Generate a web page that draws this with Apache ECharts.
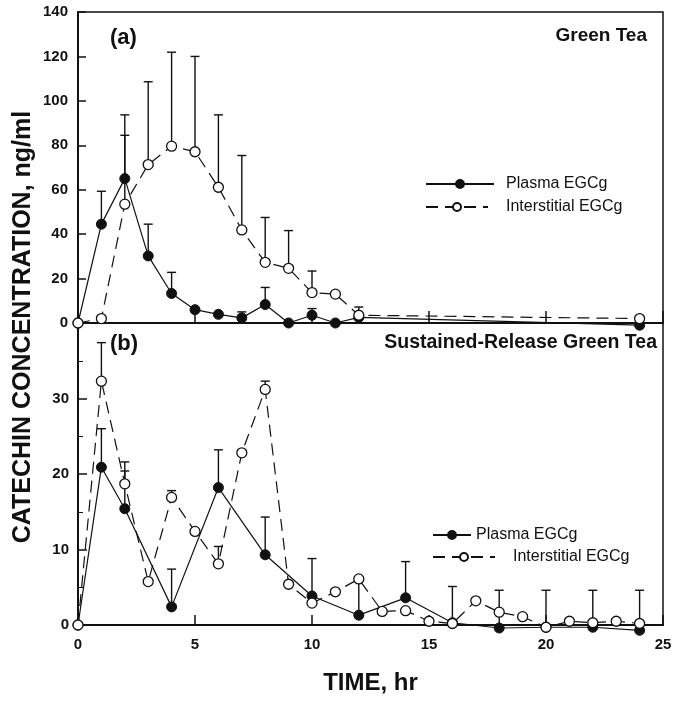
<!DOCTYPE html>
<html>
<head>
<meta charset="utf-8">
<script src="https://cdn.jsdelivr.net/npm/echarts@6/dist/echarts.min.js"></script>
<style>
html,body{margin:0;padding:0;background:#fff;}
#chart{width:684px;height:706px;}
</style>
</head>
<body>
<div id="chart"></div>
<script>
// ---- Panel (a): Green Tea ----
const hoursA = [0, 1, 2, 3, 4, 5, 6, 7, 8, 9, 10, 11, 12, 24];
const plasmaA = [0, 44.5, 65, 30.2, 13.3, 6.0, 3.9, 2.3, 8.3, 0, 3.5, 0, 2.5, -1];
const plasmaAUpper = [null, 59.3, 93.7, 44.5, 22.8, null, null, 5, 16, null, 6.5, null, null, null];
const interstitialA = [0, 2, 53.5, 71.3, 79.6, 77.1, 61.1, 41.9, 27.3, 24.6, 13.7, 13, 3.5, 2];
const interstitialAUpper = [null, null, 84.5, 108.6, 121.9, 120, 93.7, 75.4, 47.5, 41.6, 23.4, null, 7.2, null];

// ---- Panel (b): Sustained-Release Green Tea ----
const hoursBPlasma = [0, 1, 2, 4, 6, 8, 10, 12, 14, 16, 18, 20, 22, 24];
const plasmaB = [0, 20.9, 15.4, 2.4, 18.2, 9.3, 3.85, 1.3, 3.6, 0.3, -0.4, -0.3, -0.3, -0.7];
const plasmaBUpper = [null, 26, 20.4, 7.4, 23.2, 14.3, 8.8, 6.4, 8.4, 5.1, 4.6, 4.6, 4.6, 4.6];
const hoursBInter = [0, 1, 2, 3, 4, 5, 6, 7, 8, 9, 10, 11, 12, 13, 14, 15, 16, 17, 18, 19, 20, 21, 22, 23, 24];
const interstitialB = [0, 32.3, 18.7, 5.75, 16.9, 12.4, 8.1, 22.8, 31.2, 5.4, 2.9, 4.4, 6.1, 1.8, 1.9, 0.5, 0.2, 3.2, 1.7, 1.1, -0.3, 0.5, 0.3, 0.5, 0.2];
const interstitialBUpper = [null, 37.4, 21.6, null, 17.8, null, 10.4, null, 32.3, null, null, null, null, null, null, null, null, null, null, null, null, null, null, null, null];

// ---- Axis ticks ----
const xTicks = [0, 5, 10, 15, 20, 25];
const yTicksA = [0, 20, 40, 60, 80, 100, 120, 140];
const yTicksB = [0, 10, 20, 30];

const FONT = "'Liberation Sans', Arial, sans-serif";
const INK = '#111';

function pairs(xs, ys) { return xs.map((x, i) => [x, ys[i]]); }
function errPairs(xs, ys, ups) {
  const out = [];
  xs.forEach((x, i) => { if (ups[i] != null) out.push([x, ys[i], ups[i]]); });
  return out;
}
function errRender(params, api) {
  const x = api.value(0), y = api.value(1), u = api.value(2);
  const p0 = api.coord([x, y]);
  const p1 = api.coord([x, u]);
  const hw = 4.5;
  const st = { stroke: INK, lineWidth: 1.4 };
  return {
    type: 'group',
    children: [
      { type: 'line', shape: { x1: p0[0], y1: p0[1], x2: p1[0], y2: p1[1] }, style: st },
      { type: 'line', shape: { x1: p1[0] - hw, y1: p1[1], x2: p1[0] + hw, y2: p1[1] }, style: st }
    ]
  };
}

const plasmaStyle = {
  type: 'line', name: 'Plasma EGCg', symbol: 'circle', symbolSize: 10, clip: false, z: 4,
  itemStyle: { color: INK, borderColor: INK, borderWidth: 1 },
  lineStyle: { color: INK, width: 1.2, type: 'solid' }
};
const interStyle = {
  type: 'line', name: 'Interstitial EGCg', symbol: 'circle', symbolSize: 10, clip: false, z: 5,
  itemStyle: { color: '#fff', borderColor: INK, borderWidth: 1.3 },
  lineStyle: { color: INK, width: 1.2, type: [12, 7] }
};

function xAxisCfg(gi, showLabels, tickLen) {
  return {
    type: 'value', gridIndex: gi, min: 0, max: 25, interval: 5,
    axisLine: { show: true, lineStyle: { color: INK, width: 2 } },
    axisTick: { show: true, inside: true, length: tickLen, lineStyle: { color: INK, width: 1.5 } },
    axisLabel: {
      show: showLabels, margin: 12, color: INK, fontFamily: FONT, fontWeight: 'bold', fontSize: 15,
      formatter: v => xTicks.includes(v) ? String(v) : ''
    },
    splitLine: { show: false }
  };
}

const legendBase = {
  orient: 'vertical', selectedMode: false, itemHeight: 10,
  textStyle: { fontFamily: FONT, fontSize: 16, color: INK }
};

const option = {
  backgroundColor: '#fff',
  animation: false,
  grid: [
    { left: 78, top: 12, width: 585, height: 311, show: true, borderColor: INK, borderWidth: 1.5, backgroundColor: 'transparent' },
    { left: 78, top: 323, width: 585, height: 302, show: true, borderColor: INK, borderWidth: 1.5, backgroundColor: 'transparent' }
  ],
  xAxis: [
    xAxisCfg(0, false, 12),
    Object.assign(xAxisCfg(1, true, 10), {
      name: 'TIME, hr', nameLocation: 'middle', nameGap: 46,
      nameTextStyle: { color: INK, fontFamily: FONT, fontWeight: 'bold', fontSize: 24 }
    })
  ],
  yAxis: [
    {
      type: 'value', gridIndex: 0, min: 0, max: 140, interval: 20,
      axisLine: { show: true, lineStyle: { color: INK, width: 2 } },
      axisTick: { show: true, inside: true, length: 8, lineStyle: { color: INK, width: 1.5 } },
      axisLabel: { margin: 10, color: INK, fontFamily: FONT, fontWeight: 'bold', fontSize: 15,
        formatter: v => yTicksA.includes(v) ? String(v) : '' },
      splitLine: { show: false }
    },
    {
      type: 'value', gridIndex: 1, min: 0, max: 40, interval: 10,
      axisLine: { show: true, lineStyle: { color: INK, width: 2 } },
      axisTick: { show: true, inside: true, length: 9, lineStyle: { color: INK, width: 1.5 } },
      minorTick: { show: true, splitNumber: 2, length: 5, lineStyle: { color: INK, width: 1 } },
      axisLabel: { margin: 9, color: INK, fontFamily: FONT, fontWeight: 'bold', fontSize: 15,
        formatter: v => yTicksB.includes(v) ? String(v) : '' },
      splitLine: { show: false }
    }
  ],
  legend: [
    Object.assign({}, legendBase, { left: 420, top: 171, itemWidth: 68, data: ['Plasma EGCg'],
      textStyle: Object.assign({}, legendBase.textStyle, { padding: [0, 0, 0, 7] }) }),
    Object.assign({}, legendBase, { left: 420, top: 194, itemWidth: 62, data: ['Interstitial EGCg'],
      textStyle: Object.assign({}, legendBase.textStyle, { padding: [0, 0, 0, 13] }) }),
    Object.assign({}, legendBase, { left: 427, top: 522, itemWidth: 38, data: ['Plasma EGCg'],
      textStyle: Object.assign({}, legendBase.textStyle, { padding: [0, 0, 0, 0] }) }),
    Object.assign({}, legendBase, { left: 427, top: 544, itemWidth: 62, data: ['Interstitial EGCg'],
      textStyle: Object.assign({}, legendBase.textStyle, { padding: [0, 0, 0, 13] }) })
  ],
  graphic: [
    { type: 'text', left: 110, top: 27, style: { text: '(a)', fill: INK, font: 'bold 22px ' + FONT } },
    { type: 'text', right: 37, top: 26, style: { text: 'Green Tea', fill: INK, font: 'bold 19px ' + FONT } },
    { type: 'text', left: 110, top: 333, style: { text: '(b)', fill: INK, font: 'bold 22px ' + FONT } },
    { type: 'text', right: 27, top: 333, style: { text: 'Sustained-Release Green Tea', fill: INK, font: 'bold 19.5px ' + FONT } },
    { type: 'text', x: 23, y: 327, rotation: Math.PI / 2,
      style: { text: 'CATECHIN CONCENTRATION, ng/ml', fill: INK, font: 'bold 25px ' + FONT, textAlign: 'center', textVerticalAlign: 'middle' } }
  ],
  series: [
    { type: 'custom', name: 'errA1', xAxisIndex: 0, yAxisIndex: 0, renderItem: errRender, z: 2, clip: false,
      encode: { x: 0, y: 1 }, data: errPairs(hoursA, plasmaA, plasmaAUpper) },
    { type: 'custom', name: 'errA2', xAxisIndex: 0, yAxisIndex: 0, renderItem: errRender, z: 2, clip: false,
      encode: { x: 0, y: 1 }, data: errPairs(hoursA, interstitialA, interstitialAUpper) },
    { type: 'custom', name: 'errB1', xAxisIndex: 1, yAxisIndex: 1, renderItem: errRender, z: 2, clip: false,
      encode: { x: 0, y: 1 }, data: errPairs(hoursBPlasma, plasmaB, plasmaBUpper) },
    { type: 'custom', name: 'errB2', xAxisIndex: 1, yAxisIndex: 1, renderItem: errRender, z: 2, clip: false,
      encode: { x: 0, y: 1 }, data: errPairs(hoursBInter, interstitialB, interstitialBUpper) },
    Object.assign({}, plasmaStyle, { xAxisIndex: 0, yAxisIndex: 0, data: pairs(hoursA, plasmaA) }),
    Object.assign({}, interStyle, { xAxisIndex: 0, yAxisIndex: 0, data: pairs(hoursA, interstitialA) }),
    Object.assign({}, plasmaStyle, { xAxisIndex: 1, yAxisIndex: 1, data: pairs(hoursBPlasma, plasmaB) }),
    Object.assign({}, interStyle, { xAxisIndex: 1, yAxisIndex: 1, data: pairs(hoursBInter, interstitialB) })
  ]
};

const chart = echarts.init(document.getElementById('chart'), null, { renderer: 'canvas' });
chart.setOption(option);
</script>
</body>
</html>
